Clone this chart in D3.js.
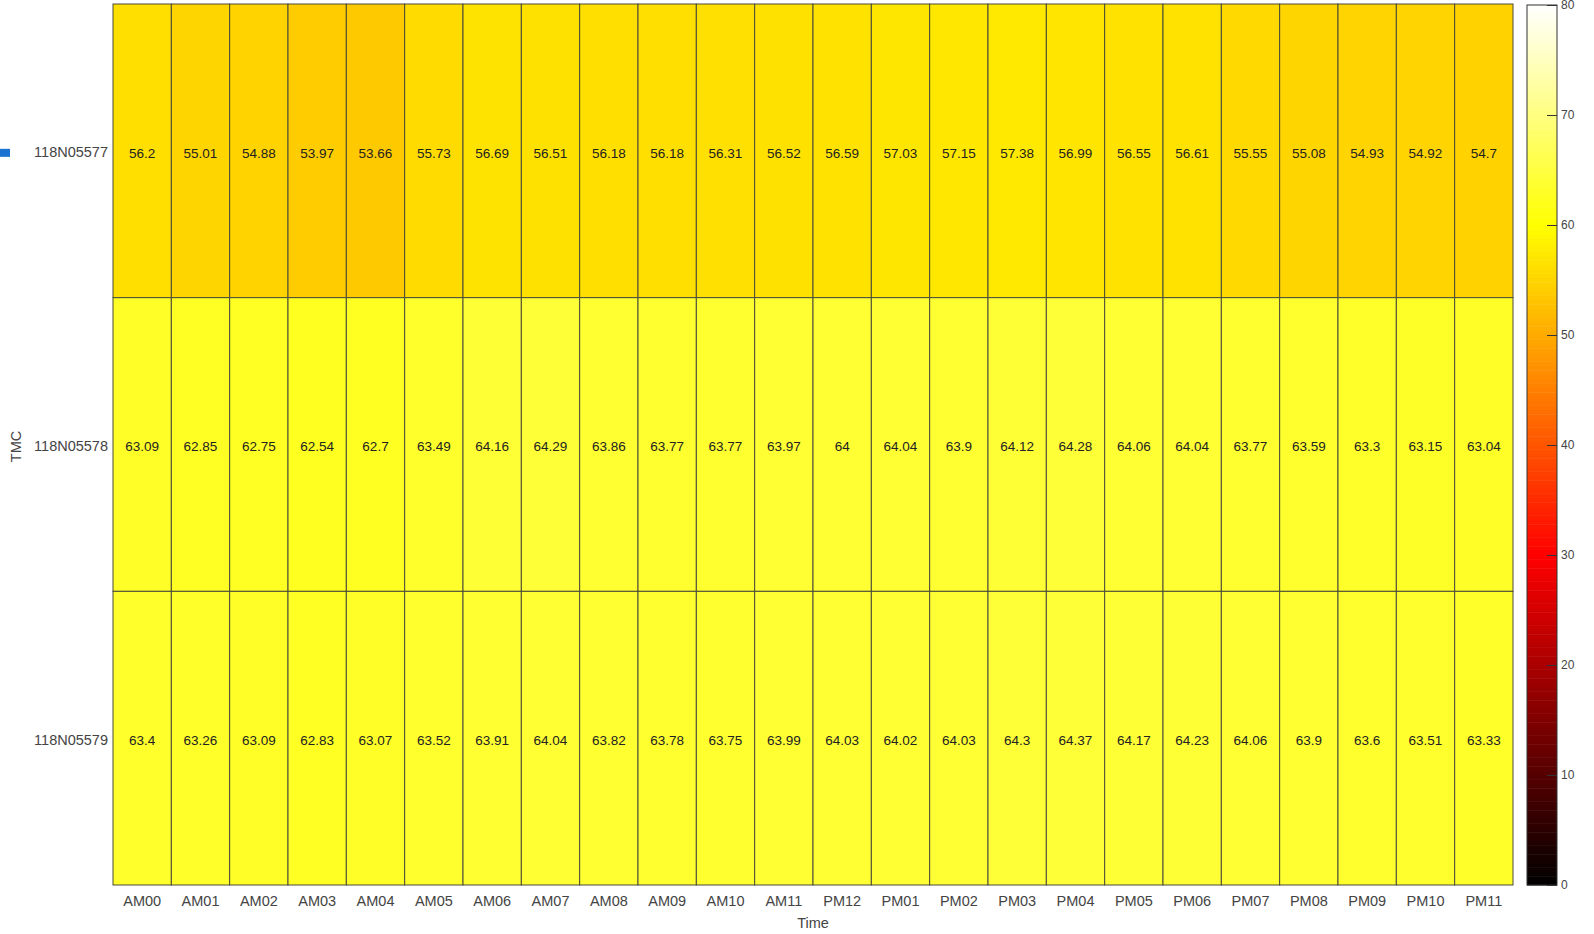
<!DOCTYPE html>
<html>
<head>
<meta charset="utf-8">
<script src="https://cdn.jsdelivr.net/npm/d3@7"></script>
<style>
  body { margin: 0; background: #fff; }
  text { font-family: "Liberation Sans", Arial, sans-serif; }
</style>
</head>
<body>
<div id="chart"></div>
<script>
// hours along the x axis
var times = ["AM00","AM01","AM02","AM03","AM04","AM05","AM06","AM07","AM08","AM09","AM10","AM11",
             "PM12","PM01","PM02","PM03","PM04","PM05","PM06","PM07","PM08","PM09","PM10","PM11"];
// TMC segments (rows)
var tmcs = ["118N05577", "118N05578", "118N05579"];
// average speed per TMC per hour
var speed05577 = [56.2,55.01,54.88,53.97,53.66,55.73,56.69,56.51,56.18,56.18,56.31,56.52,
                  56.59,57.03,57.15,57.38,56.99,56.55,56.61,55.55,55.08,54.93,54.92,54.7];
var speed05578 = [63.09,62.85,62.75,62.54,62.7,63.49,64.16,64.29,63.86,63.77,63.77,63.97,
                  64,64.04,63.9,64.12,64.28,64.06,64.04,63.77,63.59,63.3,63.15,63.04];
var speed05579 = [63.4,63.26,63.09,62.83,63.07,63.52,63.91,64.04,63.82,63.78,63.75,63.99,
                  64.03,64.02,64.03,64.3,64.37,64.17,64.23,64.06,63.9,63.6,63.51,63.33];
var colorTicks = [0, 10, 20, 30, 40, 50, 60, 70, 80];

var width = 1594, height = 934;
var speeds = [speed05577, speed05578, speed05579];

// matlab style "hot" colour map
function hot(t) {
    t = Math.max(0, Math.min(1, t));
    var r = Math.min(1, t / 0.375);
    var g = Math.max(0, Math.min(1, (t - 0.375) / 0.375));
    var b = Math.max(0, (t - 0.75) / 0.25);
    return d3.rgb(r * 255, g * 255, b * 255).toString();
}
var cmin = 0, cmax = 80;
function colorOf(v) { return hot((v - cmin) / (cmax - cmin)); }

var svg = d3.select("#chart").append("svg")
    .attr("width", width)
    .attr("height", height);

var plotLeft = 113, plotRight = 1513, plotTop = 4, plotBottom = 885;

var x = d3.scaleBand().domain(times).range([plotLeft, plotRight]);
var y = d3.scaleBand().domain(tmcs).range([plotTop, plotBottom]);

// flatten into cells
var cells = [];
for (var i = 0; i < tmcs.length; i++) {
    for (var j = 0; j < times.length; j++) {
        cells.push({ tmc: tmcs[i], time: times[j], value: speeds[i][j] });
    }
}

svg.selectAll(".cell")
    .data(cells)
    .enter().append("rect")
    .attr("class", "cell")
    .attr("x", function(d) { return x(d.time); })
    .attr("y", function(d) { return y(d.tmc); })
    .attr("width", x.bandwidth())
    .attr("height", y.bandwidth())
    .attr("fill", function(d) { return colorOf(d.value); })
    .attr("stroke", "#4a4a3a")
    .attr("stroke-width", 1);

svg.selectAll(".val")
    .data(cells)
    .enter().append("text")
    .attr("class", "val")
    .attr("x", function(d) { return x(d.time) + x.bandwidth() / 2; })
    .attr("y", function(d) { return y(d.tmc) + y.bandwidth() / 2 + 2; })
    .attr("dy", "0.35em")
    .attr("text-anchor", "middle")
    .attr("font-size", "13.5px")
    .attr("fill", "#222")
    .text(function(d) { return d.value; });

// x axis labels
var xAxis = svg.append("g")
    .attr("transform", "translate(0," + plotBottom + ")")
    .call(d3.axisBottom(x).tickSize(0).tickPadding(11));
xAxis.select(".domain").remove();
xAxis.selectAll("text").attr("font-size", "14.5px").attr("fill", "#444")
    .style("font-family", "'Liberation Sans', Arial, sans-serif");

svg.append("text")
    .attr("x", (plotLeft + plotRight) / 2)
    .attr("y", 928)
    .attr("text-anchor", "middle")
    .attr("font-size", "14.5px")
    .attr("fill", "#444")
    .text("Time");

// y axis labels
var yAxis = svg.append("g")
    .attr("transform", "translate(" + plotLeft + ",2)")
    .call(d3.axisLeft(y).tickSize(0).tickPadding(5));
yAxis.select(".domain").remove();
yAxis.selectAll("text").attr("font-size", "14.5px").attr("fill", "#444")
    .style("font-family", "'Liberation Sans', Arial, sans-serif");

svg.append("text")
    .attr("transform", "translate(21," + ((plotTop + plotBottom) / 2 + 2) + ") rotate(-90)")
    .attr("text-anchor", "middle")
    .attr("font-size", "14.5px")
    .attr("fill", "#444")
    .text("TMC");

// blue selection marker next to the first row
svg.append("rect")
    .attr("x", 0)
    .attr("y", y(tmcs[0]) + y.bandwidth() / 2 - 2)
    .attr("width", 10)
    .attr("height", 8)
    .attr("fill", "#1a73d0");

// colour bar
var cbLeft = 1527, cbWidth = 30;
var cy = d3.scaleLinear().domain([cmin, cmax]).range([plotBottom, 5]);
var steps = d3.range(0, 200);
var stepH = (cy(cmin) - cy(cmax)) / steps.length;
svg.selectAll(".cb")
    .data(steps)
    .enter().append("rect")
    .attr("class", "cb")
    .attr("x", cbLeft)
    .attr("y", function(d) { return cy(cmin + (d + 1) * (cmax - cmin) / steps.length); })
    .attr("width", cbWidth)
    .attr("height", stepH + 0.5)
    .attr("fill", function(d) { return hot((d + 0.5) / steps.length); });

svg.append("rect")
    .attr("x", cbLeft)
    .attr("y", cy(cmax))
    .attr("width", cbWidth)
    .attr("height", cy(cmin) - cy(cmax))
    .attr("fill", "none")
    .attr("stroke", "#333")
    .attr("stroke-width", 1);

var cAxis = svg.append("g")
    .attr("transform", "translate(" + (cbLeft + cbWidth) + ",0)")
    .call(d3.axisRight(cy).tickValues(colorTicks).tickSize(-10).tickPadding(4));
cAxis.select(".domain").remove();
cAxis.selectAll("line").attr("stroke", "#333");
cAxis.selectAll("text").attr("font-size", "12px").attr("fill", "#444")
    .style("font-family", "'Liberation Sans', Arial, sans-serif");
</script>
</body>
</html>
